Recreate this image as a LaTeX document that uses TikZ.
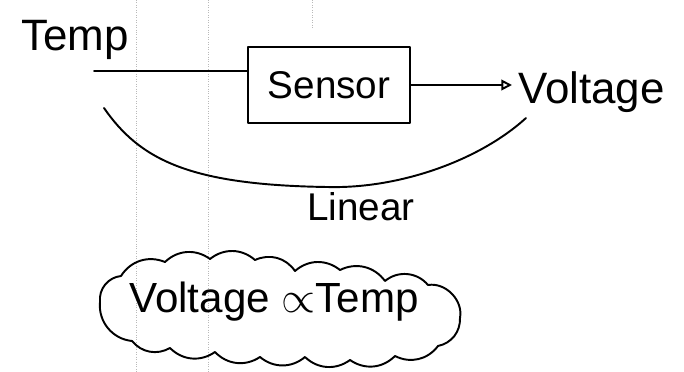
\documentclass[tikz,border=0pt]{standalone}
\usepackage{fontspec}
\setmainfont{Liberation Sans}
\usetikzlibrary{arrows.meta}
\begin{document}
\begin{tikzpicture}[x=0.02cm,y=-0.02cm,
  ink/.style={line width=1.1pt,line cap=round,line join=round},
  hand/.style={font=\fontsize{#1}{#1}\selectfont},hand/.default=22]
\useasboundingbox (0,0) rectangle (684,372);
% dotted rulings of the paper
\foreach \x in {136,208}
  \draw[gray!55,densely dotted] (\x,0) -- (\x,372);
\draw[gray!55,densely dotted] (312,0) -- (312,28);
\node[hand=25,anchor=base] (temp) at (75,51) {Temp};
\node[draw,ink,hand=22,minimum width=3.24cm,minimum height=1.52cm] (sensor) at (329,85) {Sensor};
\node[hand=25,anchor=base west] (volt) at (512,103) {Voltage};
\coordinate (tin) at (94,71);
\draw[ink] (tin) -- (tin -| sensor.west);
\draw[ink,-{Triangle[open,length=6pt,width=6pt]}] (sensor.east) -- (sensor.east -| volt.west);
% the linear relation
\coordinate (cl) at (104,108);
\coordinate (cb) at (327,187);
\coordinate (cr) at (526,118);
\draw[ink] (cl) .. controls (140,160) and (190,185) .. (cb)
  .. controls (400,189) and (480,160) .. (cr);
\node[hand=22,anchor=base] (lin) at (361,220) {Linear};
\node[hand=24] (prop) at (274,302) {Voltage $\propto$Temp};
% cloud round it
\draw[ink] (100,302) to[bend left=45] (121,276) to[bend left=40] (165,262)
  to[bend left=40] (210,259) to[bend left=40] (255,260) to[bend left=40] (295,271)
  to[bend left=40] (340,270) to[bend left=40] (385,281) to[bend left=45] (428,285)
  to[bend left=55] (460,318) to[bend left=40] (438,346) to[bend left=40] (395,356)
  to[bend left=40] (350,360) to[bend left=40] (305,357) to[bend left=40] (260,357)
  to[bend left=40] (215,352) to[bend left=40] (170,348) to[bend left=40] (132,341)
  to[bend left=45] (100,302) -- cycle;
\end{tikzpicture}
\end{document}
